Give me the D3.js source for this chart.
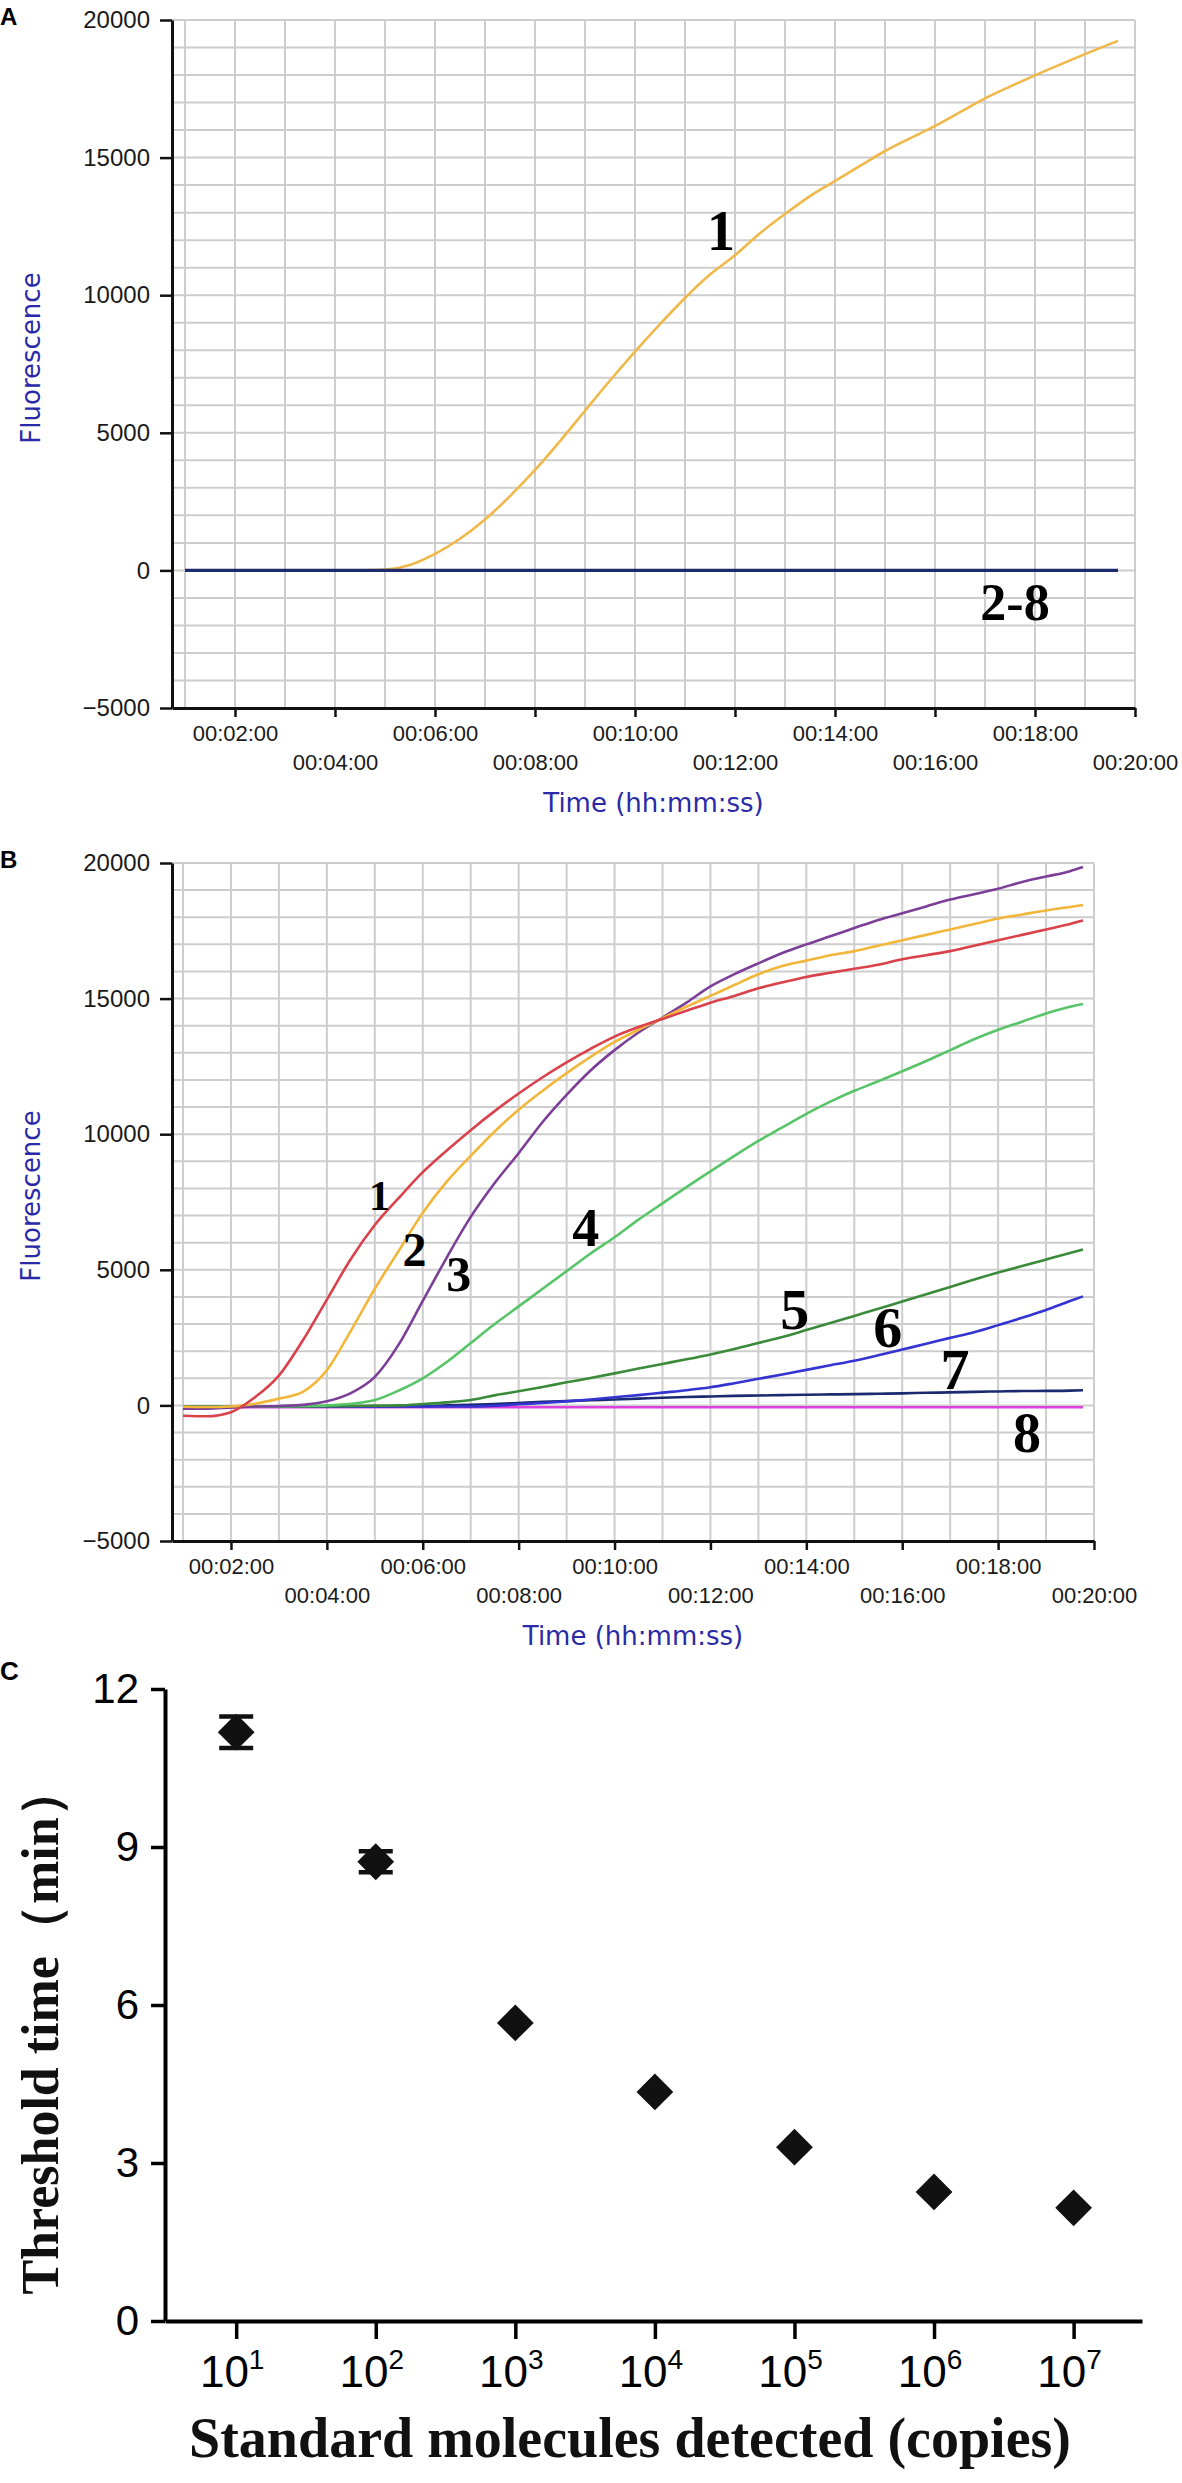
<!DOCTYPE html>
<html>
<head>
<meta charset="utf-8">
<script src="https://cdn.jsdelivr.net/npm/d3@7"></script>
<style>
  body { margin: 0; background: #fff; }
  svg { display: block; }
</style>
</head>
<body>
<script>
// ---------- data ----------
const fluorTicks = [-5000, 0, 5000, 10000, 15000, 20000];
const minuteTicks = [2, 4, 6, 8, 10, 12, 14, 16, 18, 20];

// panel A (minutes, fluorescence)
const timeA = [1, 2, 3, 4, 4.5, 5, 5.5, 6, 6.5, 7, 7.5, 8, 8.5, 9, 9.5, 10, 10.5, 11, 11.5, 12,
  12.5, 13, 13.5, 14, 14.5, 15, 15.5, 16, 16.5, 17, 17.5, 18, 18.5, 19, 19.66];
const fluorA1 = [0, 0, 0, 0, 0, 30, 200, 600, 1150, 1850, 2700, 3650, 4700, 5800, 6900, 7950, 8950, 9900, 10750, 11450,
  12250, 12950, 13600, 14150, 14700, 15240, 15700, 16150, 16650, 17150, 17580, 17990, 18380, 18760, 19240];
const timeA28 = [1, 19.66];
const fluorA28 = [0, 0];

// panel B
const timeB = [1, 1.5, 2, 2.5, 3, 3.5, 4, 4.5, 5, 5.5, 6, 6.5, 7, 7.5, 8, 8.5, 9, 9.5, 10, 10.5,
  11, 11.5, 12, 12.5, 13, 13.5, 14, 14.5, 15, 15.5, 16, 16.5, 17, 17.5, 18, 18.5, 19, 19.5, 19.77];
const fluorB1 = [-380, -400, -250, 300, 1100, 2400, 3900, 5400, 6650, 7650, 8600, 9400, 10150, 10850, 11500, 12100, 12650, 13150, 13600, 13950,
  14250, 14550, 14850, 15100, 15380, 15600, 15800, 15950, 16100, 16250, 16450, 16600, 16750, 16950, 17150, 17350, 17550, 17750, 17880];
const fluorB2 = [-50, -60, -40, 60, 250, 500, 1300, 2750, 4300, 5700, 7100, 8250, 9200, 10100, 10900, 11600, 12250, 12850, 13400, 13850,
  14280, 14700, 15100, 15500, 15900, 16200, 16400, 16600, 16750, 16950, 17150, 17350, 17550, 17750, 17950, 18100, 18250, 18380, 18450];
const fluorB3 = [-120, -120, -80, -40, -20, 20, 150, 450, 1050, 2250, 3850, 5450, 6950, 8200, 9300, 10450, 11450, 12350, 13100, 13750,
  14300, 14850, 15450, 15900, 16300, 16680, 17000, 17300, 17600, 17900, 18150, 18400, 18650, 18850, 19050, 19300, 19500, 19700, 19850];
const fluorB4 = [-60, -60, -50, -40, -30, -20, 0, 60, 200, 550, 1000, 1600, 2300, 3000, 3650, 4300, 4950, 5600, 6200, 6850,
  7450, 8050, 8630, 9200, 9750, 10250, 10750, 11200, 11600, 11950, 12320, 12700, 13100, 13500, 13850, 14150, 14450, 14700, 14800];
const fluorB5 = [-40, -40, -40, -40, -40, -40, -30, -20, -10, 0, 50, 110, 200, 370, 520, 680, 850, 1010, 1180, 1360,
  1530, 1700, 1880, 2080, 2300, 2520, 2780, 3040, 3300, 3560, 3830, 4100, 4370, 4640, 4900, 5140, 5380, 5620, 5750];
const fluorB6 = [-40, -40, -40, -40, -40, -40, -40, -40, -40, -40, -40, -40, -40, -10, 40, 90, 150, 220, 300, 380,
  470, 560, 670, 820, 980, 1140, 1310, 1480, 1650, 1850, 2060, 2270, 2490, 2700, 2960, 3230, 3520, 3850, 4020];
const fluorB7 = [-30, -30, -30, -30, -30, -30, -30, -30, -30, -30, -30, 0, 20, 50, 90, 130, 160, 190, 220, 250,
  280, 310, 330, 350, 365, 380, 395, 405, 415, 430, 445, 465, 480, 500, 515, 530, 535, 545, 560];
const fluorB8 = [-90, -80, -70, -70, -70, -70, -70, -70, -70, -70, -70, -70, -70, -70, -70, -70, -70, -70, -70, -70,
  -70, -70, -70, -70, -70, -70, -70, -70, -70, -70, -70, -70, -70, -70, -70, -70, -70, -70, -70];

// panel C
const copies = [1e1, 1e2, 1e3, 1e4, 1e5, 1e6, 1e7];
const thresholdMin = [11.18, 8.72, 5.66, 4.35, 3.3, 2.45, 2.15];
const thresholdErr = [0.3, 0.2, 0, 0, 0, 0, 0];
const thresholdTicks = [0, 3, 6, 9, 12];

// ---------- drawing ----------
const W = 1182, H = 2483;
const svg = d3.select("body").append("svg").attr("width", W).attr("height", H);

const fmtTime = m => "00:" + String(m).padStart(2, "0") + ":00";
const blue = "#2a2aa6";

function runPanel(cfg) {
  const x = d3.scaleLinear().domain([cfg.t0, 20]).range([172, cfg.right]);
  const y = d3.scaleLinear().domain([-5000, 20000]).range([cfg.bottom, cfg.top]);
  const g = svg.append("g");

  // grid
  const grid = g.append("g").attr("stroke", "#cdcdcd").attr("stroke-width", 2);
  grid.selectAll("line.v").data(d3.range(1, 21)).enter().append("line")
    .attr("x1", d => x(d)).attr("x2", d => x(d))
    .attr("y1", y(20000)).attr("y2", y(-5000));
  grid.selectAll("line.h").data(d3.range(-4000, 20001, 1000)).enter().append("line")
    .attr("x1", 172).attr("x2", x(20))
    .attr("y1", d => y(d)).attr("y2", d => y(d));

  // curves
  const line = d3.line().x(d => x(d[0])).y(d => y(d[1])).curve(d3.curveMonotoneX);
  cfg.series.forEach(s => {
    g.append("path")
      .datum(s.t.map((t, i) => [t, s.v[i]]))
      .attr("fill", "none")
      .attr("stroke", s.color)
      .attr("stroke-width", s.width || 2.6)
      .attr("d", line);
  });

  // axes
  const ay = g.append("g").attr("transform", "translate(172,0)")
    .call(d3.axisLeft(y).tickValues(fluorTicks).tickFormat(d3.format("d"))
      .tickSize(12).tickSizeOuter(0).tickPadding(10));
  ay.select(".domain").attr("stroke", "#111").attr("stroke-width", 3);
  ay.selectAll(".tick line").attr("stroke", "#111").attr("stroke-width", 2.5);
  ay.selectAll(".tick text").attr("font-family", "Liberation Sans, Arial, sans-serif")
    .attr("font-size", 24).attr("fill", "#1a1a1a");

  const ax = g.append("g").attr("transform", `translate(0,${cfg.bottom})`)
    .call(d3.axisBottom(x).tickValues(minuteTicks).tickFormat(fmtTime).tickSize(9).tickSizeOuter(0));
  ax.select(".domain").attr("stroke", "#111").attr("stroke-width", 3);
  ax.selectAll(".tick line").attr("stroke", "#111").attr("stroke-width", 2.5);
  ax.selectAll(".tick text").attr("font-family", "Liberation Sans, Arial, sans-serif")
    .attr("font-size", 22).attr("fill", "#1a1a1a")
    .attr("dy", null)
    .attr("y", (d, i) => i % 2 === 0 ? 33 : 62);

  // axis titles
  g.append("text").attr("transform", `translate(40,${(cfg.top + cfg.bottom) / 2 - 6}) rotate(-90)`)
    .attr("text-anchor", "middle").attr("font-family", "DejaVu Sans, Verdana, sans-serif")
    .attr("font-size", 26).attr("fill", blue).text("Fluorescence");
  g.append("text").attr("x", (172 + x(20)) / 2).attr("y", cfg.bottom + 104)
    .attr("text-anchor", "middle").attr("font-family", "DejaVu Sans, Verdana, sans-serif")
    .attr("font-size", 26).attr("fill", blue).text("Time (hh:mm:ss)");

  // panel letter
  svg.append("text").attr("x", 0).attr("y", cfg.top + 5)
    .attr("font-family", "Liberation Sans, Arial, sans-serif").attr("font-weight", "bold")
    .attr("font-size", 24).text(cfg.letter);

  // curve labels
  cfg.labels.forEach(l => {
    g.append("text").attr("x", x(l.t)).attr("y", y(l.v))
      .attr("text-anchor", "middle")
      .attr("font-family", "Liberation Serif, Times New Roman, serif").attr("font-weight", "bold")
      .attr("font-size", l.size).attr("fill", "#000").text(l.text);
  });
}

runPanel({
  letter: "A", t0: 0.74, right: 1135, top: 20, bottom: 708,
  series: [
    { t: timeA, v: fluorA1, color: "#f0b848" },
    { t: timeA28, v: fluorA28, color: "#1d2b6c", width: 3.2 }
  ],
  labels: [
    { text: "1", t: 11.72, v: 11650, size: 56 },
    { text: "2-8", t: 17.6, v: -1800, size: 52 }
  ]
});

runPanel({
  letter: "B", t0: 0.77, right: 1094, top: 863, bottom: 1541,
  series: [
    { t: timeB, v: fluorB8, color: "#de3fde" },
    { t: timeB, v: fluorB7, color: "#1b2a6e" },
    { t: timeB, v: fluorB6, color: "#3434d2" },
    { t: timeB, v: fluorB5, color: "#3b8a3b" },
    { t: timeB, v: fluorB4, color: "#58c468" },
    { t: timeB, v: fluorB3, color: "#7c3f98" },
    { t: timeB, v: fluorB2, color: "#f2b73a" },
    { t: timeB, v: fluorB1, color: "#d9414b" }
  ],
  labels: [
    { text: "1", t: 5.1, v: 7200, size: 42 },
    { text: "2", t: 5.83, v: 5150, size: 48 },
    { text: "3", t: 6.75, v: 4200, size: 50 },
    { text: "4", t: 9.4, v: 5880, size: 54 },
    { text: "5", t: 13.76, v: 2800, size: 58 },
    { text: "6", t: 15.7, v: 2170, size: 58 },
    { text: "7", t: 17.1, v: 620, size: 58 },
    { text: "8", t: 18.6, v: -1700, size: 56 }
  ]
});

// ---------- panel C ----------
(function () {
  const x = d3.scaleLog().domain([Math.pow(10, 0.49), Math.pow(10, 7.49)]).range([165, 1142]);
  const y = d3.scaleLinear().domain([0, 12]).range([2321, 1689]);
  const g = svg.append("g");

  const ax = g.append("g").attr("transform", "translate(0,2321)")
    .call(d3.axisBottom(x).tickValues(copies).tickFormat("").tickSize(18).tickSizeOuter(0));
  ax.select(".domain").attr("stroke", "#000").attr("stroke-width", 4);
  ax.selectAll(".tick line").attr("stroke", "#000").attr("stroke-width", 3.5);

  const lab = g.selectAll("text.xl").data(copies).enter().append("text")
    .attr("x", d => x(d) - 4).attr("y", 2387)
    .attr("text-anchor", "middle")
    .attr("font-family", "Liberation Sans, Arial, sans-serif").attr("font-size", 44).attr("fill", "#000");
  lab.append("tspan").text("10");
  lab.append("tspan").attr("font-size", 28).attr("dy", -18).text(d => Math.round(Math.log10(d)));

  const ay = g.append("g").attr("transform", "translate(165,0)")
    .call(d3.axisLeft(y).tickValues(thresholdTicks).tickSize(14).tickSizeOuter(0).tickPadding(12));
  ay.select(".domain").attr("stroke", "#000").attr("stroke-width", 4);
  ay.selectAll(".tick line").attr("stroke", "#000").attr("stroke-width", 3.5);
  ay.selectAll(".tick text").attr("font-family", "Liberation Sans, Arial, sans-serif")
    .attr("font-size", 42).attr("fill", "#000");

  // error bars
  const pts = copies.map((c, i) => ({ c, v: thresholdMin[i], e: thresholdErr[i] }));
  const eb = g.append("g").attr("stroke", "#111").attr("stroke-width", 4.5);
  pts.filter(p => p.e > 0).forEach(p => {
    eb.append("line").attr("x1", x(p.c)).attr("x2", x(p.c)).attr("y1", y(p.v - p.e)).attr("y2", y(p.v + p.e));
    [p.v - p.e, p.v + p.e].forEach(v => {
      eb.append("line").attr("x1", x(p.c) - 17).attr("x2", x(p.c) + 17).attr("y1", y(v)).attr("y2", y(v));
    });
  });

  g.selectAll("path.pt").data(pts).enter().append("path")
    .attr("d", d3.symbol(d3.symbolSquare, 26 * 26))
    .attr("transform", d => `translate(${x(d.c)},${y(d.v)}) rotate(45)`)
    .attr("fill", "#111");

  g.append("text").attr("transform", "translate(58,2030) rotate(-90)")
    .attr("text-anchor", "middle")
    .attr("font-family", "Liberation Serif, Times New Roman, serif").attr("font-weight", "bold")
    .attr("font-size", 52).attr("fill", "#111").text("Threshold time（min）");

  g.append("text").attr("x", 630).attr("y", 2457)
    .attr("text-anchor", "middle")
    .attr("font-family", "Liberation Serif, Times New Roman, serif").attr("font-weight", "bold")
    .attr("font-size", 56).attr("fill", "#111").text("Standard molecules detected (copies)");

  svg.append("text").attr("x", 0).attr("y", 1680)
    .attr("font-family", "Liberation Sans, Arial, sans-serif").attr("font-weight", "bold")
    .attr("font-size", 26).text("C");
})();
</script>
</body>
</html>
